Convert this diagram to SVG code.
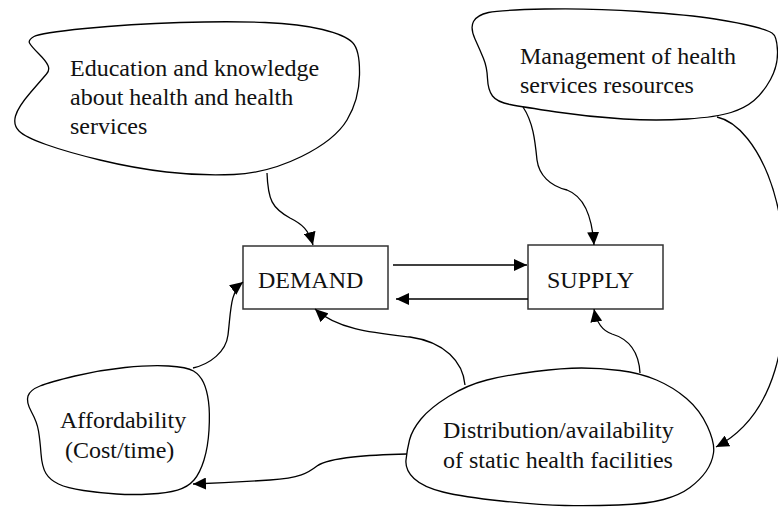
<svg xmlns="http://www.w3.org/2000/svg" width="778" height="507" viewBox="0 0 778 507">
<style>
.blob{fill:#fff;stroke:#000;stroke-width:1.3;stroke-linejoin:round}
.box{fill:#fff;stroke:#333;stroke-width:1.5}
.lbl{font-family:"Liberation Serif","Times New Roman",serif;font-size:24px;fill:#111}
.con{fill:none;stroke:#000;stroke-width:1.3;marker-end:url(#ah)}
</style>
<defs>
<marker id="ah" markerUnits="userSpaceOnUse" markerWidth="14" markerHeight="12" refX="13" refY="6" orient="auto">
<path d="M0,0 L13,6 L0,12 z" fill="#000"/>
</marker>
</defs>
<rect width="778" height="507" fill="#fff"/>
<g id="education">
<path class="blob" d="M29.5,43 Q28,40 34,36.5 Q40,33 85,28.5 Q130,24 180,22.5 Q230,21 265,22.5 Q300,24 322.5,29.5 Q345,35 352.5,42.5 Q360,50 359.5,75 Q359,100 347,120 Q335,140 301.5,156.5 Q268,173 234,174.5 Q200,176 166.5,172 Q133,168 100,160 Q67,152 46,144.5 Q25,137 19,131 Q13,125 15.5,116 Q18,107 30.5,92.5 Q43,78 46.5,74 Q50,70 48,65.5 Q46,61 38.5,53.5 Q31,46 29.5,43 Z"/>
<text class="lbl" x="70" y="76">Education and knowledge</text>
<text class="lbl" x="70" y="105">about health and health</text>
<text class="lbl" x="70" y="134">services</text>
</g>
<g id="management">
<path class="blob" d="M475,39 Q470,28 473.5,21.5 Q477,15 488.5,12.5 Q500,10 545,9 Q590,8 640,11.5 Q690,15 715,19 Q740,23 753.5,26.5 Q767,30 772,33 Q777,36 777.5,51 Q778,66 770.5,79.5 Q763,93 754,100.5 Q745,108 731,112.5 Q717,117 687,119 Q657,121 623.5,119 Q590,117 556.5,112 Q523,107 510,104.5 Q497,102 492.5,96 Q488,90 487.5,78.5 Q487,67 483.5,58.5 Q480,50 475,39 Z"/>
<text class="lbl" x="520" y="64">Management of health</text>
<text class="lbl" x="520" y="93">services resources</text>
</g>
<g id="demand">
<rect class="box" x="243" y="246" width="145" height="63"/>
<text class="lbl" x="258" y="288">DEMAND</text>
</g>
<g id="supply">
<rect class="box" x="528" y="245" width="135" height="64"/>
<text class="lbl" x="547" y="288">SUPPLY</text>
</g>
<g id="affordability">
<path class="blob" d="M28,396 Q30,390 40,386 Q50,382 75,376 Q100,370 125,367.5 Q150,365 168.5,366 Q187,367 193.5,371 Q200,375 203.5,382.5 Q207,390 208.5,401.5 Q210,413 209,430 Q208,447 204,460 Q200,473 194,480 Q188,487 177.5,490 Q167,493 150,494 Q133,495 116.5,494 Q100,493 83.5,490.5 Q67,488 58.5,484 Q50,480 46,473.5 Q42,467 41,453.5 Q40,440 38.5,431 Q37,422 31.5,412 Q26,402 28,396 Z"/>
<text class="lbl" x="60" y="428">Affordability</text>
<text class="lbl" x="65" y="458">(Cost/time)</text>
</g>
<g id="distribution">
<path class="blob" d="M406,460 Q407,450 409.5,440 Q412,430 421,419 Q430,408 448.5,396.5 Q467,385 487,380 Q507,375 535,371.5 Q563,368 581.5,368 Q600,368 620,370.5 Q640,373 656.5,380 Q673,387 686.5,398.5 Q700,410 707.5,426.5 Q715,443 713.5,453 Q712,463 706,471.5 Q700,480 690,487.5 Q680,495 663.5,499.5 Q647,504 618.5,505 Q590,506 565,505.5 Q540,505 501.5,501 Q463,497 443,492 Q423,487 414,478.5 Q405,470 406,460 Z"/>
<text class="lbl" x="443" y="438">Distribution/availability</text>
<text class="lbl" x="443" y="468">of static health facilities</text>
</g>
<g id="connectors">
<path class="con" d="M267,173 C268,200 272,208 290,218 C302,224 309,230 313,245"/>
<path class="con" d="M523,107 C533,122 535,140 537,160 C539,175 550,186 567,190 C583,196 592,215 594,245"/>
<path class="con" d="M393,265 L527,265"/>
<path class="con" d="M528,299 L396,299"/>
<path class="con" d="M193,368 C210,364 226,352 228,335 C231,310 230,292 243,282"/>
<path class="con" d="M465,385 C463,362 445,342 410,337 C375,333 338,330 315,309"/>
<path class="con" d="M640,373 C639,355 632,340 612,334 C600,330 596,320 594,309"/>
<path class="con" d="M407,454 C370,455 330,457 317,466 C308,473 300,478 270,480 C240,482 220,483 193,484"/>
<path class="con" d="M717,117 C740,122 758,150 768,175 C790,230 790,320 775,370 C766,400 748,430 716,447"/>
</g>
</svg>
